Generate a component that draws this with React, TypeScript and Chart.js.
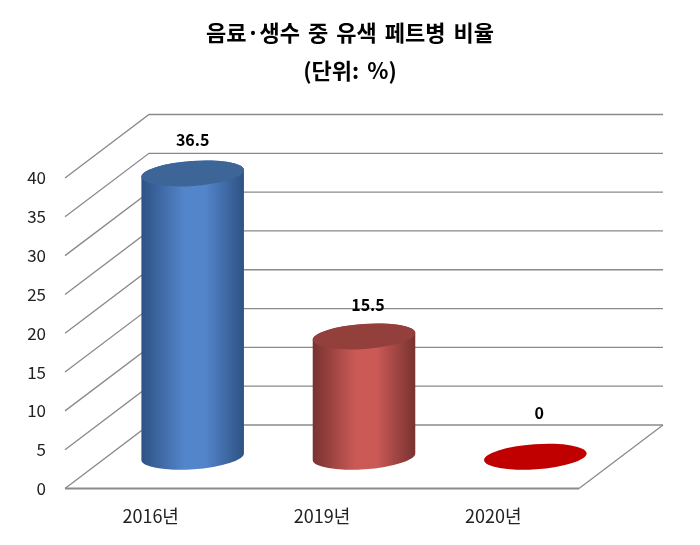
import React, { useEffect, useRef } from "react";
import { Chart, registerables } from "chart.js";

Chart.register(...registerables);

const categories = ["2016년", "2019년", "2020년"];
const values = [36.5, 15.5, 0];
const titleLines = ["음료·생수 중 유색 페트병 비율", "(단위: %)"];
const topColors = ["#3E6597", "#93403D", "#C00000"];
const edgeColors = ["#2E5284", "#773230", "#8A0000"];
const midColors = ["#5385CB", "#CB5A56", "#C00000"];
const labelShift = [0, 4, 4];
const labelRise = [33, 32, 44];

const FONT = '"Noto Sans CJK KR", "Noto Sans", sans-serif';
const DEPTH_X = 84;
const DEPTH_Y = 63.5;
const TILT = (-4 * Math.PI) / 180;
const RY = 12.5;
const GRID = "#8A8A8A";

const wall3d = {
  id: "wall3d",
  afterLayout(chart: any) {
    chart.titleBlock.left = 0;
    chart.titleBlock.right = chart.width;
    chart.titleBlock.width = chart.width;
  },
  beforeDraw(chart: any) {
    (chart.ctx as any).wordSpacing = "3px";
  },
  beforeDatasetsDraw(chart: any) {
    const { ctx, chartArea, scales } = chart;
    (ctx as any).wordSpacing = "0px";
    const y = scales.y;
    ctx.save();
    ctx.strokeStyle = GRID;
    ctx.lineWidth = 1.3;
    for (const tick of y.ticks) {
      const py = y.getPixelForValue(tick.value);
      ctx.beginPath();
      ctx.moveTo(chartArea.left, py);
      ctx.lineTo(chartArea.left + DEPTH_X, py - DEPTH_Y);
      ctx.lineTo(chartArea.right + DEPTH_X, py - DEPTH_Y);
      ctx.stroke();
    }
    const p0 = y.getPixelForValue(0);
    ctx.beginPath();
    ctx.moveTo(chartArea.right + DEPTH_X, p0 - DEPTH_Y);
    ctx.lineTo(chartArea.right, p0);
    ctx.stroke();
    ctx.lineWidth = 2;
    ctx.beginPath();
    ctx.moveTo(chartArea.left, p0);
    ctx.lineTo(chartArea.right, p0);
    ctx.stroke();
    ctx.restore();
  },
};

const cylinders = {
  id: "cylinders",
  afterDatasetsDraw(chart: any) {
    const { ctx } = chart;
    const meta = chart.getDatasetMeta(0);
    ctx.save();
    meta.data.forEach((bar: any, i: number) => {
      const cx = bar.x + DEPTH_X / 2;
      const rx = bar.width / 2;
      const top = bar.y - DEPTH_Y / 2;
      const bottom = bar.base - DEPTH_Y / 2;
      if (bottom - top > 0.5) {
        const g = ctx.createLinearGradient(cx - rx, 0, cx + rx, 0);
        g.addColorStop(0, edgeColors[i]);
        g.addColorStop(0.42, midColors[i]);
        g.addColorStop(0.62, midColors[i]);
        g.addColorStop(1, edgeColors[i]);
        ctx.beginPath();
        ctx.ellipse(cx, bottom, rx, RY, TILT, Math.PI, 0, true);
        ctx.ellipse(cx, top, rx, RY, TILT, 0, Math.PI, true);
        ctx.closePath();
        ctx.fillStyle = g;
        ctx.fill();
      }
      ctx.beginPath();
      ctx.ellipse(cx, top, rx, RY, TILT, 0, Math.PI * 2);
      ctx.fillStyle = topColors[i];
      ctx.fill();
      ctx.fillStyle = "#000000";
      ctx.font = `bold 16px ${FONT}`;
      ctx.textAlign = "center";
      ctx.textBaseline = "middle";
      ctx.fillText(String(values[i]), cx + labelShift[i], top - labelRise[i]);
    });
    ctx.restore();
  },
};

export default function App() {
  const ref = useRef<HTMLCanvasElement>(null);
  useEffect(() => {
    document.body.style.margin = "0";
    const chart = new Chart(ref.current!, {
      type: "bar",
      data: {
        labels: categories,
        datasets: [
          {
            data: values,
            backgroundColor: "rgba(0,0,0,0)",
            borderWidth: 0,
            barPercentage: 0.6,
            categoryPercentage: 1,
          },
        ],
      },
      plugins: [wall3d, cylinders],
      options: {
        responsive: false,
        animation: false,
        layout: { padding: { left: 0, right: 121, top: 0, bottom: 0 } },
        plugins: {
          legend: { display: false },
          tooltip: { enabled: false },
          title: {
            display: true,
            text: titleLines,
            color: "#000000",
            font: { family: FONT, size: 22, weight: "bold", lineHeight: 38 / 22 },
            padding: { top: 14, bottom: 88 },
          },
        },
        scales: {
          x: {
            grid: { display: false },
            border: { display: false },
            ticks: { color: "#222222", font: { family: FONT, size: 18 }, padding: 9 },
            afterFit(scale: any) {
              scale.height = 56.5;
            },
          },
          y: {
            min: 0,
            max: 40,
            grid: { display: false },
            border: { display: false },
            ticks: { stepSize: 5, color: "#222222", font: { family: FONT, size: 17 }, padding: 11 },
            afterFit(scale: any) {
              scale.width = 65;
            },
          },
        },
      },
    } as any);
    return () => chart.destroy();
  }, []);
  return <canvas ref={ref} width={700} height={545} style={{ display: "block" }} />;
}
